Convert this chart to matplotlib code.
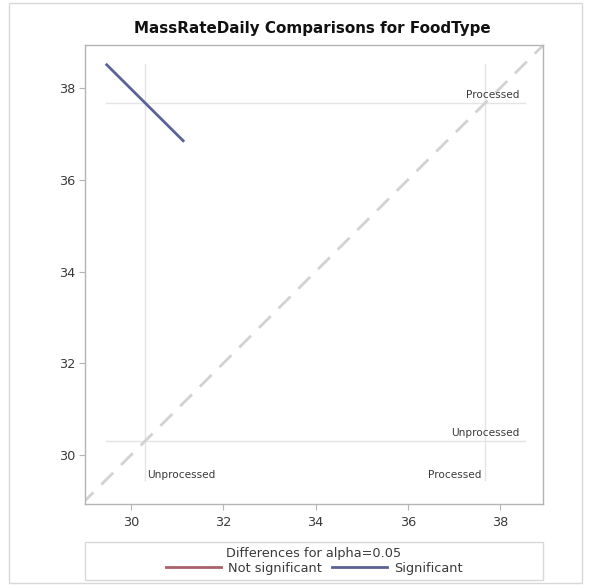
import matplotlib
matplotlib.use("Agg")
import matplotlib.pyplot as plt
from matplotlib.lines import Line2D
from matplotlib.patches import Rectangle

plt.rcParams['font.family'] = ['DejaVu Sans']

# LS means per level and the 95% CI of (Processed - Unprocessed)
levels = ["Processed", "Unprocessed"]
lsmeans = [37.68, 30.30]
diff_lower = 5.68
diff_upper = 9.08
significant = True

title = "MassRateDaily Comparisons for FoodType"
xticks = [30, 32, 34, 36, 38]
yticks = [30, 32, 34, 36, 38]

COL_SIG = '#5b6296'
COL_NS = '#a8626a'
GRID = '#e4e4e4'
SPINE = '#b4b4b4'
TXT = '#3a3a3a'

fig = plt.figure(figsize=(5.89, 5.85), dpi=100)
W, H = 589, 585

def fx(px):
    return px / W

def fy(py):
    return 1 - py / H

# outer frame
fig.patches.append(Rectangle((fx(9), fy(583)), fx(582) - fx(9), fy(3) - fy(583),
                             transform=fig.transFigure, fill=False,
                             edgecolor='#d8d8d8', lw=1.0))

ax = fig.add_axes([fx(85), fy(504), fx(543) - fx(85), fy(45) - fy(504)])
ax.set_xlim(29.0, 38.93)
ax.set_ylim(28.93, 38.94)

mean = dict(zip(levels, lsmeans))
x0 = mean["Unprocessed"]
y0 = mean["Processed"]
d = y0 - x0
t_hi = (diff_upper - d) / 2.0
t_lo = (diff_lower - d) / 2.0
seg_x = [x0 - t_hi, x0 - t_lo]
seg_y = [y0 + t_hi, y0 + t_lo]

lo = min(seg_x + seg_y)
hi = max(seg_x + seg_y)

# reference lines at each LS mean
for m in lsmeans:
    ax.plot([m, m], [lo, hi], color=GRID, lw=1.0, zorder=1)
    ax.plot([lo, hi], [m, m], color=GRID, lw=1.0, zorder=1)

# diagonal of equality
ax.plot([28.5, 39.5], [28.5, 39.5], color='#d2d2d2', lw=2.0,
        dashes=(6, 4), zorder=2)

# comparison segment
ax.plot(seg_x, seg_y, color=COL_SIG if significant else COL_NS,
        lw=2.0, solid_capstyle='butt', zorder=3)

lab_fs = 7.6
# level labels along the right side (horizontal ref lines)
for name, m in zip(levels, lsmeans):
    ax.annotate(name, xy=(hi, m), xytext=(-5, 8), textcoords='offset pixels',
                ha='right', va='center', fontsize=lab_fs, color=TXT)
# level labels along the bottom (vertical ref lines)
ax.annotate("Unprocessed", xy=(mean["Unprocessed"], lo), xytext=(2, 5),
            textcoords='offset pixels', ha='left', va='center',
            fontsize=lab_fs, color=TXT)
ax.annotate("Processed", xy=(mean["Processed"], lo), xytext=(-4, 5),
            textcoords='offset pixels', ha='right', va='center',
            fontsize=lab_fs, color=TXT)

ax.set_xticks(xticks)
ax.set_yticks(yticks)
ax.set_xticklabels([str(v) for v in xticks])
ax.set_yticklabels([str(v) for v in yticks])
ax.tick_params(axis='both', length=4, width=0.8, color=SPINE,
               labelsize=9.3, labelcolor=TXT, pad=3)
ax.tick_params(axis='x', pad=5)
for s in ax.spines.values():
    s.set_color(SPINE)
    s.set_linewidth(1.0)

fig.text(fx(312), fy(29), title, ha='center', va='center',
         fontsize=10.9, fontweight='bold', color='#111111')

# legend box
fig.patches.append(Rectangle((fx(85), fy(580)), fx(543) - fx(85), fy(542) - fy(580),
                             transform=fig.transFigure, fill=False,
                             edgecolor='#d8d8d8', lw=1.0))
handles = [Line2D([], [], color=COL_NS, lw=2.0),
           Line2D([], [], color=COL_SIG, lw=2.0)]
leg = fig.legend(handles, ["Not significant", "Significant"],
                 loc='center', bbox_to_anchor=(fx(314), fy(561)),
                 ncol=2, frameon=False, fontsize=9.3,
                 title="Differences for alpha=0.05", title_fontsize=9.3,
                 handlelength=4.3, handletextpad=0.5, columnspacing=0.8,
                 borderpad=0.0, labelspacing=0.0)
for t in leg.get_texts():
    t.set_color(TXT)
leg.get_title().set_color(TXT)
leg._legend_box.sep = 1

fig.savefig("out.png", dpi=100)
